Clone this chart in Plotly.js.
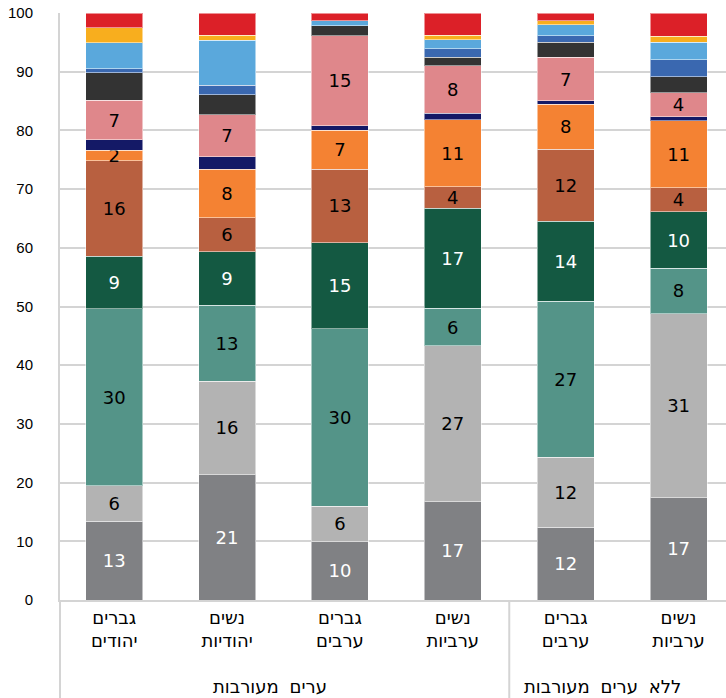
<!DOCTYPE html>
<html><head><meta charset="utf-8">
<script src="https://cdn.plot.ly/plotly-3.0.1.min.js"></script>
<style>html,body{margin:0;padding:0;background:#fff}</style>
</head><body><div id="chart" style="width:726px;height:698px"></div>
<script>
// groups and categories (left to right)
const groups = ['ערים מעורבות','ערים מעורבות','ערים מעורבות','ערים מעורבות','ללא ערים מעורבות','ללא ערים מעורבות'];
const categories = ['גברים<br>יהודים','נשים<br>יהודיות','גברים<br>ערבים','נשים<br>ערביות','גברים<br>ערבים','נשים<br>ערביות'];
const yTicks = [0,10,20,30,40,50,60,70,80,90,100];

// series values, bottom to top (percent)
const s01 = [13.4, 21.35, 9.9, 16.7, 12.4, 17.4];
const s02 = [6.1, 15.95, 6.1, 26.6, 11.96, 31.4];
const s03 = [30.15, 12.9, 30.25, 6.4, 26.54, 7.7];
const s04 = [8.95, 9.1, 14.6, 17.05, 13.6, 9.6];
const s05 = [16.2, 5.8, 12.55, 3.65, 12.27, 4.1];
const s06 = [1.8, 8.3, 6.66, 11.4, 7.7, 11.45];
const s07 = [1.8, 2.1, 0.74, 1.1, 0.55, 0.7];
const s08 = [6.7, 7.2, 15.3, 8.1, 7.45, 4.1];
const s09 = [4.7, 3.4, 1.75, 1.45, 2.55, 2.7];
const s10 = [0.7, 1.6, 0, 1.5, 1.1, 2.85];
const s11 = [4.4, 7.65, 0.8, 1.5, 1.85, 3.0];
const s12 = [2.6, 0.85, 0, 0.75, 0.75, 1.0];
const s13 = [2.5, 3.8, 1.35, 3.8, 1.28, 4.0];

const series = [s01,s02,s03,s04,s05,s06,s07,s08,s09,s10,s11,s12,s13];
const colors = ['#808184','#b3b3b3','#549488','#145942','#b86040','#f48233','#141966','#df878b','#333333','#3a68b0','#5aa8dc','#f8ae1e','#dc2028'];
const showLabel = [true,true,true,true,true,true,false,true,false,false,false,false,false];
const labelColor = ['#ffffff','#000000','#000000','#ffffff','#000000','#000000','#000000','#000000','#000000','#000000','#000000','#000000','#000000'];

const monoFont = 'DejaVu Sans Mono, DejaVu Sans, sans-serif';
const labelFont = 'DejaVu Sans, sans-serif';
const lineCol = '#d4d4d4';

// unique category keys for the axis
const xKeys = categories.map((c, i) => groups[i] + '|' + c);

const traces = series.map((vals, i) => ({
  type: 'bar',
  name: 'סדרה ' + (i+1),
  x: xKeys,
  y: vals,
  marker: {color: colors[i], line: {color: 'rgba(255,255,255,0.5)', width: 1}},
  texttemplate: showLabel[i] ? '%{y:.0f}' : '',
  textposition: showLabel[i] ? 'inside' : 'none',
  insidetextanchor: 'middle',
  constraintext: 'none',
  textangle: 0,
  textfont: {family: labelFont, size: 18, color: labelColor[i]},
  hoverinfo: 'skip'
}));

// group labels and dividers
const groupNames = [...new Set(groups)];
const annotations = [];
const shapes = [{type: 'line', xref: 'paper', yref: 'paper', x0: 0, x1: 0, y0: 0, y1: -0.17,
                 line: {color: lineCol, width: 2}}];
groupNames.forEach((g, gi) => {
  const idx = groups.map((v, i) => v === g ? i : -1).filter(i => i >= 0);
  const first = idx[0], last = idx[idx.length - 1];
  annotations.push({
    x: (first + last) / 2, xref: 'x', y: -0.147, yref: 'paper',
    text: g, showarrow: false, xanchor: 'center', yanchor: 'middle', xshift: gi === 0 ? -14 : -20,
    font: {family: monoFont, size: 18, color: '#000'}
  });
  if (gi > 0) {
    shapes.push({type: 'line', xref: 'x', yref: 'paper', x0: first - 0.5, x1: first - 0.5, y0: 0, y1: -0.17,
                 line: {color: lineCol, width: 2}});
  }
});

const layout = {
  width: 726, height: 698,
  margin: {l: 60, r: 0, t: 13, b: 98, pad: 0},
  barmode: 'stack',
  bargap: 0.495,
  showlegend: false,
  paper_bgcolor: '#ffffff',
  plot_bgcolor: '#ffffff',
  annotations: annotations,
  shapes: shapes,
  xaxis: {
    type: 'category',
    range: [-0.48, 5.42],
    tickvals: xKeys,
    ticktext: categories,
    showgrid: false,
    showline: true, linecolor: lineCol, linewidth: 2,
    tickfont: {family: monoFont, size: 18, color: '#000'},
    ticks: ''
  },
  yaxis: {
    range: [0, 100],
    tickvals: yTicks,
    ticktext: yTicks.map(String),
    showgrid: true, gridcolor: lineCol, gridwidth: 2,
    showline: true, linecolor: lineCol, linewidth: 2,
    zeroline: false,
    ticks: '',
    ticklabelstandoff: 22,
    tickfont: {family: 'Liberation Sans, Arial, sans-serif', size: 15, color: '#000'}
  }
};

Plotly.newPlot('chart', traces, layout, {displayModeBar: false, staticPlot: true});
</script></body></html>
